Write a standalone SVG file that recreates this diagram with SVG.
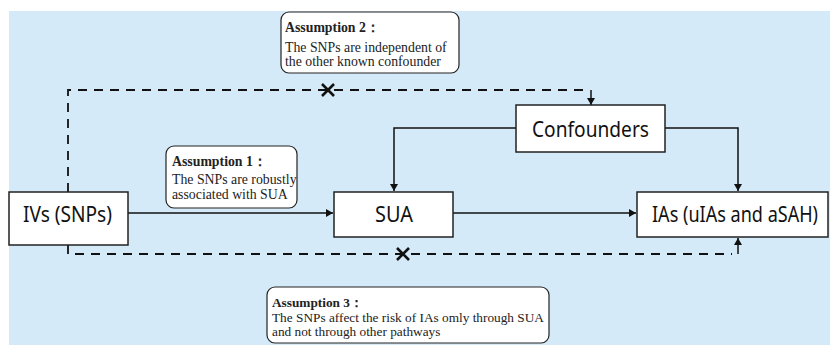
<svg xmlns="http://www.w3.org/2000/svg" width="830" height="345" viewBox="0 0 830 345">
<style>
.bg{fill:#d5eaf8}
.node{fill:#fff;stroke:#222;stroke-width:1.5}
.note{fill:#fff;stroke:#222;stroke-width:1.2}
.lbl{font-family:"Noto Sans","Open Sans",sans-serif;font-size:21px;fill:#111;text-anchor:middle}
.nt{font-family:"Liberation Serif","Times New Roman",serif;font-size:13.8px;fill:#222}
.nt3{font-family:"Liberation Serif","Times New Roman",serif;font-size:13.3px;fill:#222}
.hd{font-weight:bold}
.ln{fill:none;stroke:#111;stroke-width:1.5}
.dash{fill:none;stroke:#111;stroke-width:1.8;stroke-dasharray:9 7}
.x{stroke:#111;stroke-width:2.6;stroke-linecap:butt}
</style>
<defs>
<marker id="ah" markerUnits="userSpaceOnUse" markerWidth="8" markerHeight="8" refX="7" refY="4" orient="auto">
<path d="M0,0 L7,4 L0,8 z" fill="#111"/>
</marker>
</defs>
<rect class="bg" x="9" y="11" width="821" height="334"/>

<g id="connectors">
<path class="ln" d="M128,213 H333" marker-end="url(#ah)"/>
<path class="ln" d="M453,213 H636" marker-end="url(#ah)"/>
<path class="ln" d="M516,128 H394 V191" marker-end="url(#ah)"/>
<path class="ln" d="M665,128 H738 V191" marker-end="url(#ah)"/>
<path class="dash" d="M68,192 V90 H588"/>
<path class="ln" d="M591,90 V105" marker-end="url(#ah)"/>
<path class="dash" d="M68,245 V254 H732"/>
<path class="ln" d="M738,254 V238" marker-end="url(#ah)"/>
<g id="x1"><path class="x" d="M322,84 L334,96 M334,84 L322,96"/></g>
<g id="x2"><path class="x" d="M397,248 L409,260 M409,248 L397,260"/></g>
</g>

<g id="a2">
<rect class="note" x="281" y="12" width="178" height="61" rx="8"/>
<text class="nt" x="285" y="32"><tspan class="hd">Assumption 2：</tspan><tspan x="285" y="52">The SNPs are independent of</tspan><tspan x="285" y="66">the other known confounder</tspan></text>
</g>

<g id="a1">
<rect class="note" x="166" y="146" width="131" height="62" rx="8"/>
<text class="nt" x="172" y="166"><tspan class="hd">Assumption 1：</tspan><tspan x="172" y="184">The SNPs are robustly</tspan><tspan x="172" y="199">associated with SUA</tspan></text>
</g>

<g id="a3">
<rect class="note" x="267" y="287" width="282" height="56" rx="8"/>
<text class="nt3" x="272" y="307"><tspan class="hd">Assumption 3：</tspan><tspan x="272" y="322">The SNPs affect the risk of IAs omly through SUA</tspan><tspan x="272" y="336">and not through other pathways</tspan></text>
</g>

<g id="confounders">
<rect class="node" x="516" y="105" width="149" height="47"/>
<text class="lbl" x="590.5" y="137" textLength="117" lengthAdjust="spacingAndGlyphs">Confounders</text>
</g>

<g id="ivs">
<rect class="node" x="9" y="192" width="119" height="53"/>
<text class="lbl" x="67.5" y="222" textLength="89" lengthAdjust="spacingAndGlyphs">IVs (SNPs)</text>
</g>

<g id="sua">
<rect class="node" x="334" y="192" width="119" height="45"/>
<text class="lbl" x="394" y="222" textLength="38" lengthAdjust="spacingAndGlyphs">SUA</text>
</g>

<g id="ias">
<rect class="node" x="637" y="192" width="191" height="45"/>
<text class="lbl" transform="translate(735,222) scale(0.86,1)" x="0" y="0">IAs (uIAs and aSAH)</text>
</g>
</svg>
